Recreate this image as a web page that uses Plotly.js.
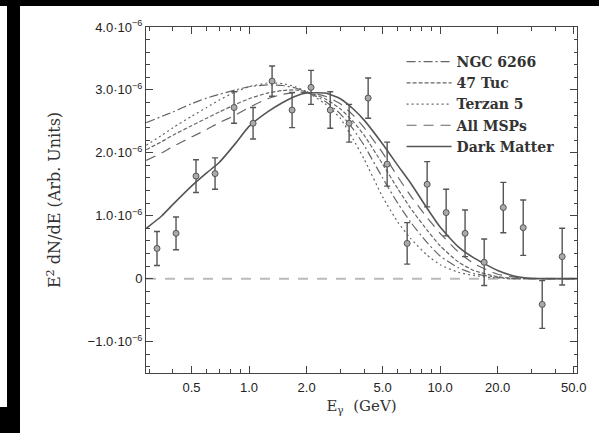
<!DOCTYPE html>
<html>
<head>
<meta charset="utf-8">
<script src="https://cdn.plot.ly/plotly-3.0.1.min.js"></script>
<style>
  html, body { margin: 0; padding: 0; background: #fff; }
  #chart { width: 599px; height: 433px; position: relative; }
  .edge { position: absolute; background: #000; z-index: 10; }
</style>
</head>
<body>
<div id="chart"></div>
<div class="edge" style="left:0;top:0;width:599px;height:6px;"></div>
<div class="edge" style="left:7px;top:0;width:13px;height:433px;"></div>
<div class="edge" style="left:0;top:407px;width:20px;height:26px;"></div>
<script>
// Measured spectrum (flux in units of 1e-6, arbitrary units)
const energy  = [0.33, 0.415, 0.528, 0.664, 0.835, 1.05, 1.32, 1.68, 2.11, 2.66, 3.34, 4.2,
                 5.28, 6.72, 8.55, 10.75, 13.5, 17.0, 21.4, 27.2, 34.2, 43.5];
const flux    = [0.48, 0.72, 1.63, 1.67, 2.72, 2.47, 3.14, 2.68, 3.04, 2.68, 2.47, 2.87,
                 1.82, 0.56, 1.50, 1.05, 0.72, 0.26, 1.13, 0.81, -0.41, 0.35];
const fluxErr = [0.27, 0.26, 0.26, 0.25, 0.25, 0.25, 0.24, 0.28, 0.27, 0.29, 0.30, 0.32,
                 0.35, 0.33, 0.36, 0.37, 0.37, 0.37, 0.40, 0.44, 0.38, 0.45];

// Model spectra sampled on a common energy grid (GeV)
const curveE      = [0.29, 0.35, 0.4, 0.5, 0.6, 0.7, 0.85, 1.0, 1.25, 1.5, 1.75, 2.0, 2.5, 3.0,
                     3.5, 4.0, 5.0, 6.0, 7.0, 8.5, 10, 12.5, 15, 20, 25, 30, 40, 52];
const ngc6266     = [2.48, 2.58, 2.65, 2.78, 2.87, 2.93, 3.00, 3.05, 3.08, 3.07, 3.03, 2.97, 2.82, 2.62,
                     2.38, 2.12, 1.60, 1.20, 0.90, 0.58, 0.36, 0.17, 0.08, 0.02, 0, 0, 0, 0];
const tuc47       = [2.05, 2.18, 2.28, 2.43, 2.55, 2.65, 2.77, 2.86, 2.95, 2.99, 3.00, 2.97, 2.86, 2.70,
                     2.50, 2.28, 1.82, 1.43, 1.12, 0.78, 0.52, 0.26, 0.13, 0.03, 0, 0, 0, 0];
const terzan5     = [2.12, 2.28, 2.40, 2.58, 2.72, 2.84, 2.97, 3.05, 3.11, 3.10, 3.05, 2.97, 2.78, 2.55,
                     2.22, 1.90, 1.30, 0.90, 0.64, 0.38, 0.22, 0.10, 0.05, 0.01, 0, 0, 0, 0];
const allMsps     = [1.88, 2.00, 2.10, 2.25, 2.37, 2.48, 2.60, 2.72, 2.86, 2.93, 2.96, 2.96, 2.90, 2.78,
                     2.60, 2.40, 2.00, 1.62, 1.32, 0.98, 0.72, 0.42, 0.24, 0.07, 0.02, 0, 0, 0];
const darkMatter  = [0.80, 1.00, 1.18, 1.47, 1.68, 1.85, 2.15, 2.42, 2.65, 2.80, 2.90, 2.95, 2.95, 2.86,
                     2.70, 2.52, 2.14, 1.80, 1.52, 1.13, 0.82, 0.50, 0.33, 0.13, 0.035, 0.005, 0, 0];

const seriesNames = ['NGC 6266', '47 Tuc', 'Terzan 5', 'All MSPs', 'Dark Matter'];

// Axis ticks
const xTickVals  = [0.5, 1, 2, 5, 10, 20, 50];
const xTickText  = ['0.5', '1.0', '2.0', '5.0', '10.0', '20.0', '50.0'];
const xMinorVals = [0.3, 0.4, 0.6, 0.7, 0.8, 0.9, 3, 4, 6, 7, 8, 9, 30, 40];
const yTickVals  = [-1, 0, 1, 2, 3, 4];
const yTickText  = ['\u22121.0\u00b710<sup>\u22126</sup>', '0', '1.0\u00b710<sup>\u22126</sup>',
                    '2.0\u00b710<sup>\u22126</sup>', '3.0\u00b710<sup>\u22126</sup>', '4.0\u00b710<sup>\u22126</sup>'];

function curve(y, idx, dash, color, width) {
  return {
    x: curveE, y: y, type: 'scatter', mode: 'lines', name: seriesNames[idx],
    line: { color: color, width: width, dash: dash, shape: 'spline', smoothing: 0.55 },
    hoverinfo: 'skip'
  };
}

const traces = [
  curve(ngc6266, 0, '9px,3px,2px,3px', '#666', 1.2),
  curve(tuc47, 1, '4px,2px', '#666', 1.2),
  curve(terzan5, 2, '2px,3px', '#666', 1.2),
  curve(allMsps, 3, '10px,7px', '#666', 1.2),
  curve(darkMatter, 4, 'solid', '#555', 1.6),
  {
    x: energy, y: flux, type: 'scatter', mode: 'markers', showlegend: false,
    marker: { symbol: 'circle', size: 6, color: '#aaa', line: { color: '#555', width: 1 } },
    error_y: { type: 'data', array: fluxErr, visible: true, color: '#555', thickness: 1.4, width: 3 }
  }
];

const axisCommon = {
  showline: true, linecolor: '#444', linewidth: 1, mirror: 'ticks',
  ticks: 'inside', tickcolor: '#444', tickwidth: 1,
  showgrid: false, zeroline: false,
  tickfont: { family: 'Liberation Sans, Arial, sans-serif', size: 13, color: '#222' }
};

const layout = {
  width: 599, height: 433,
  margin: { l: 146, r: 22, t: 27, b: 60 },
  paper_bgcolor: '#fff', plot_bgcolor: '#fff',
  showlegend: true,
  legend: {
    x: 0.593, y: 0.945, xanchor: 'left', yanchor: 'top', itemwidth: 45,
    bgcolor: 'rgba(0,0,0,0)', borderwidth: 0,
    font: { family: 'DejaVu Serif, serif', size: 14, color: '#333', weight: 'bold' }
  },
  xaxis: Object.assign({}, axisCommon, {
    type: 'log', range: [Math.log10(0.289), Math.log10(52)],
    tickmode: 'array', tickvals: xTickVals, ticktext: xTickText, ticklen: 7, ticklabelstandoff: 2,
    minor: { tickmode: 'array', tickvals: xMinorVals, ticklen: 4, ticks: 'inside', tickcolor: '#444' },
    title: { text: 'E<sub>\u03b3</sub>  (GeV)', standoff: 6,
             font: { family: 'DejaVu Serif, serif', size: 15, color: '#333' } }
  }),
  yaxis: Object.assign({}, axisCommon, {
    range: [-1.5, 4.0],
    tickmode: 'array', tickvals: yTickVals, ticktext: yTickText, ticklen: 7,
    minor: { dtick: 0.2, ticklen: 3.5, ticks: 'inside', tickcolor: '#444' },
    title: { text: 'E<sup>2</sup> dN/dE (Arb. Units)', standoff: 22,
             font: { family: 'DejaVu Serif, serif', size: 16, color: '#333' } }
  }),
  shapes: [{
    type: 'line', xref: 'paper', x0: 0, x1: 1, yref: 'y', y0: 0, y1: 0,
    line: { color: '#bbb', width: 2, dash: '10px,9px' }, layer: 'below'
  }]
};

Plotly.newPlot('chart', traces, layout, { staticPlot: true, displayModeBar: false });
</script>
</body>
</html>
